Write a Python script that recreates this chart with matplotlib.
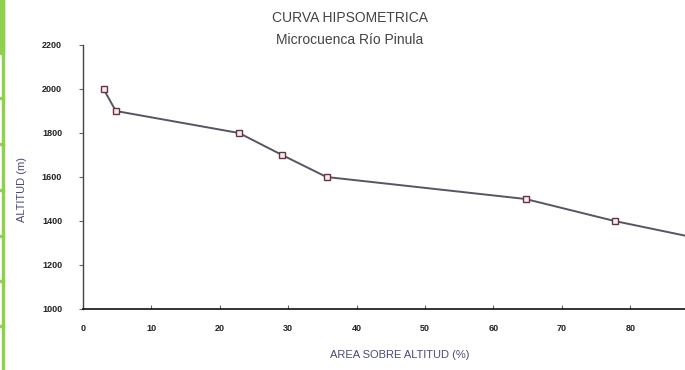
import matplotlib
matplotlib.use("Agg")
import matplotlib.pyplot as plt
from matplotlib.patches import Rectangle

area_pct = [3.0, 4.8, 22.8, 29.1, 35.6, 64.7, 77.7, 93.2]
altitud = [2000, 1900, 1800, 1700, 1600, 1500, 1400, 1300]
x_ticks = [0, 10, 20, 30, 40, 50, 60, 70, 80]
y_ticks = [1000, 1200, 1400, 1600, 1800, 2000, 2200]

plt.rcParams['font.family'] = ['Liberation Sans', 'DejaVu Sans']

fig = plt.figure(figsize=(6.85, 3.7), dpi=100)
W, H = 685, 370
ax = fig.add_axes([83 / W, 1 - 309 / H, 1 - 83 / W, (309 - 45) / H])

ax.plot(area_pct, altitud, color='#555566', lw=1.4, marker='s', ms=4,
        mfc='#f2eef0', mec='#6e3040', mew=1.0, clip_on=True, zorder=3)

ax.set_xlim(0, 88)
ax.set_ylim(1000, 2200)
ax.set_xticks(x_ticks)
ax.set_yticks(y_ticks)
ax.set_xticklabels([str(v) for v in x_ticks], fontsize=6.5, fontweight='bold', color='#222222')
ax.set_yticklabels([str(v) for v in y_ticks], fontsize=6.5, fontweight='bold', color='#222222')
ax.tick_params(axis='x', direction='in', length=3, width=0.8, colors='#666666',
               labelcolor='#222222', pad=11)
ax.tick_params(axis='y', direction='out', length=3, width=0.8, colors='#666666',
               labelcolor='#222222', pad=12)
for s in ['top', 'right']:
    ax.spines[s].set_visible(False)
ax.spines['left'].set_color('#444444')
ax.spines['bottom'].set_color('#111111')
ax.spines['left'].set_linewidth(1.0)
ax.spines['bottom'].set_linewidth(1.2)

fig.text(350 / W, 1 - 18 / H, 'CURVA HIPSOMETRICA', ha='center', va='center',
         fontsize=10, color='#444444')
fig.text(350 / W, 1 - 40 / H, 'Microcuenca Río Pinula', ha='center', va='center',
         fontsize=10, color='#444444')
fig.text(22 / W, 1 - 190 / H, 'ALTITUD (m)', rotation=90, ha='center', va='center',
         fontsize=8, color='#4a4a78')
fig.text(400 / W, 1 - 355 / H, 'AREA SOBRE ALTITUD (%)', ha='center', va='center',
         fontsize=8, color='#4a4a78')

# green frame on the left edge
green = '#8fd14f'
fig.patches.append(Rectangle((0, 1 - 52 / H), 4 / W, 52 / H, transform=fig.transFigure,
                             color=green, zorder=10))
fig.patches.append(Rectangle((2 / W, 0), 2 / W, 1, transform=fig.transFigure,
                             color=green, zorder=10))
for yy in [53, 98, 144, 190, 236, 281, 326]:
    fig.patches.append(Rectangle((0, 1 - (yy + 1) / H), 4 / W, 2 / H,
                                 transform=fig.transFigure, color=green, zorder=10))

fig.savefig('out.png', dpi=100)
